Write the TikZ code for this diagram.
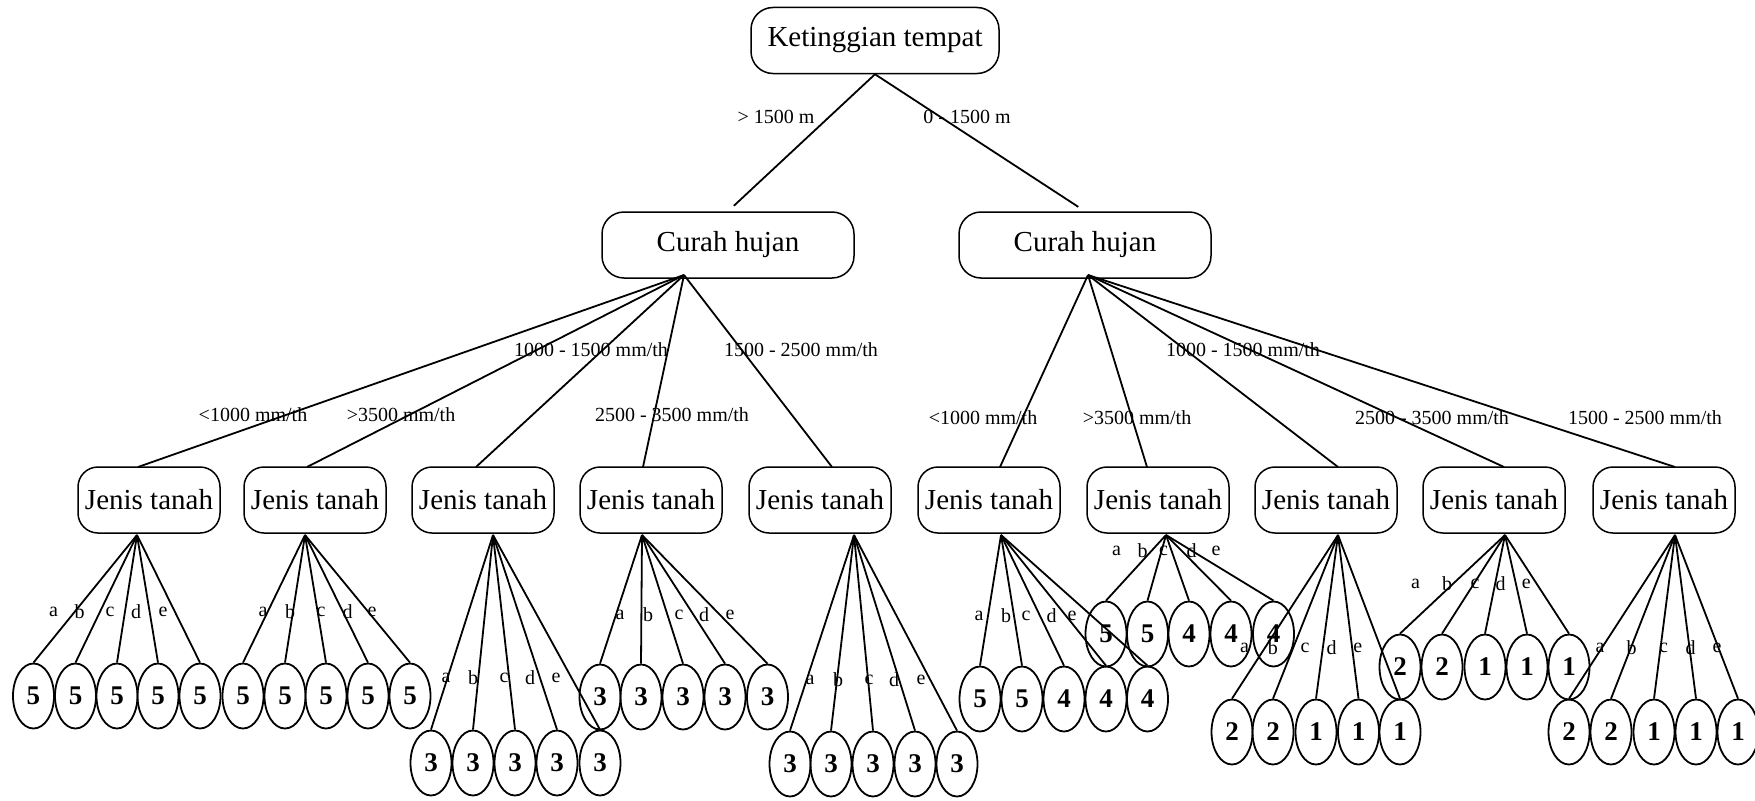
\documentclass[tikz,border=0pt]{standalone}
\usepackage{fontspec}
\setmainfont{Liberation Serif}
\usetikzlibrary{shapes.geometric}

\tikzset{
  box/.style={draw, line width=1.5pt, rounded corners=22pt, minimum height=66pt,
    inner sep=0pt, font=\fontsize{29}{32}\selectfont},
  topbox/.style={box, minimum width=248pt},
  chbox/.style={box, minimum width=252pt},
  jtbox/.style={box, minimum width=142pt, rounded corners=20pt},
  leafnode/.style={draw, ellipse, line width=1.8pt, minimum width=41pt,
    minimum height=65pt, inner sep=0pt, font=\fontsize{27}{30}\selectfont\bfseries},
  conn/.style={line width=1.8pt},
  rng/.style={font=\fontsize{20}{22}\selectfont, inner sep=0pt},
  lettr/.style={font=\fontsize{20}{22}\selectfont, inner sep=0pt},
}

% one fan of five leaves below a "Jenis tanah" box
% #1 group, #2 leaf row y, #3 leaf x/value list, #4 letter row y, #5 letter x list
\newcommand\fangroup[5]{%
  \foreach \lx/\lv [count=\k] in {#3} {
    \node[leafnode] (g#1l\k) at (\lx,#2) {\lv};
    \draw[conn] (jtout#1) -- (g#1l\k.north);
  }
  \foreach \tx [count=\k] in {#5}
    \node[lettr] (g#1t\k) at (\tx,#4) {\ifcase\k\or a\or b\or c\or d\or e\fi};
}

\begin{document}
\begin{tikzpicture}[x=1pt,y=-1pt]
\useasboundingbox (0,0) rectangle (1755,800);

% root and second level
\node[topbox] (top) at (875,40.5) {Ketinggian tempat};
\node[chbox] (chL) at (728,245) {Curah hujan};
\node[chbox] (chR) at (1085,245) {Curah hujan};
\draw[conn, shorten >=8pt] (top.south) -- (chL.north);
\draw[conn, shorten >=8pt] (top.south) -- (chR.north);
\node[rng] (hA) at (776,117) {> 1500 m};
\node[rng] (hB) at (967,117) {0 - 1500 m};

\coordinate (rootL) at (684,275);
\coordinate (rootR) at (1088,275);

% third level: soil type boxes
\foreach \i/\cx/\tx/\bx in {1/149/138/137, 2/315/307/305, 3/483/476/493, 4/651/643/642,
    5/820/832/854, 6/989/1000/1001, 7/1158/1147/1166, 8/1326/1338/1338,
    9/1494/1504/1505, 10/1664/1675/1675} {
  \node[jtbox] (jt\i) at (\cx,500) {Jenis tanah};
  \coordinate (jtin\i) at (\tx,467);
  \coordinate (jtout\i) at (\bx,535);
}
\foreach \i in {1,...,5} \draw[conn] (rootL) -- (jtin\i);
\foreach \i in {6,...,10} \draw[conn] (rootR) -- (jtin\i);

% rainfall labels
\node[rng] (rL1) at (253,415) {<1000 mm/th};
\node[rng] (rL2) at (401,415) {>3500 mm/th};
\node[rng] (rL3) at (591,350) {1000 - 1500 mm/th};
\node[rng] (rL4) at (672,415) {2500 - 3500 mm/th};
\node[rng] (rL5) at (801,350) {1500 - 2500 mm/th};
\node[rng] (rR1) at (983,418) {<1000 mm/th};
\node[rng] (rR2) at (1137,418) {>3500 mm/th};
\node[rng] (rR3) at (1243,350) {1000 - 1500 mm/th};
\node[rng] (rR4) at (1432,418) {2500 - 3500 mm/th};
\node[rng] (rR5) at (1645,418) {1500 - 2500 mm/th};

% leaves
\fangroup{1}{696}{33.5/5,75.5/5,117/5,158/5,200/5}{612}{53.6,79.6,110,136,163}
\fangroup{2}{696}{243/5,285/5,326/5,368/5,410/5}{612}{263,290,321,347.5,372}
\fangroup{3}{763}{431/3,473/3,515/3,557/3,600/3}{678}{446,473,504,530,556}
\fangroup{4}{697}{600/3,641/3,683/3,725/3,767.5/3}{615}{620,648,679,704,730}
\fangroup{5}{764}{790/3,831/3,873/3,915/3,957/3}{680}{810,838,869,894,921}
\fangroup{6}{699}{980/5,1022/5,1064/4,1106/4,1147.5/4}{616}{979,1006,1026,1051.5,1072}
\fangroup{7}{634}{1106/5,1147.5/5,1189/4,1231/4,1273.5/4}{551}{1116.5,1142.6,1163.5,1191.7,1216}
\fangroup{8}{732}{1232/2,1273/2,1316/1,1358.5/1,1400/1}{648}{1244.6,1272.8,1305,1331.5,1357.7}
\fangroup{9}{667}{1400/2,1442/2,1485/1,1527/1,1569/1}{584}{1415.6,1447,1475,1500.6,1526.4}
\fangroup{10}{732}{1569/2,1611/2,1654/1,1696/1,1738/1}{648}{1600,1631.5,1663.5,1690.5,1717}
\end{tikzpicture}
\end{document}
